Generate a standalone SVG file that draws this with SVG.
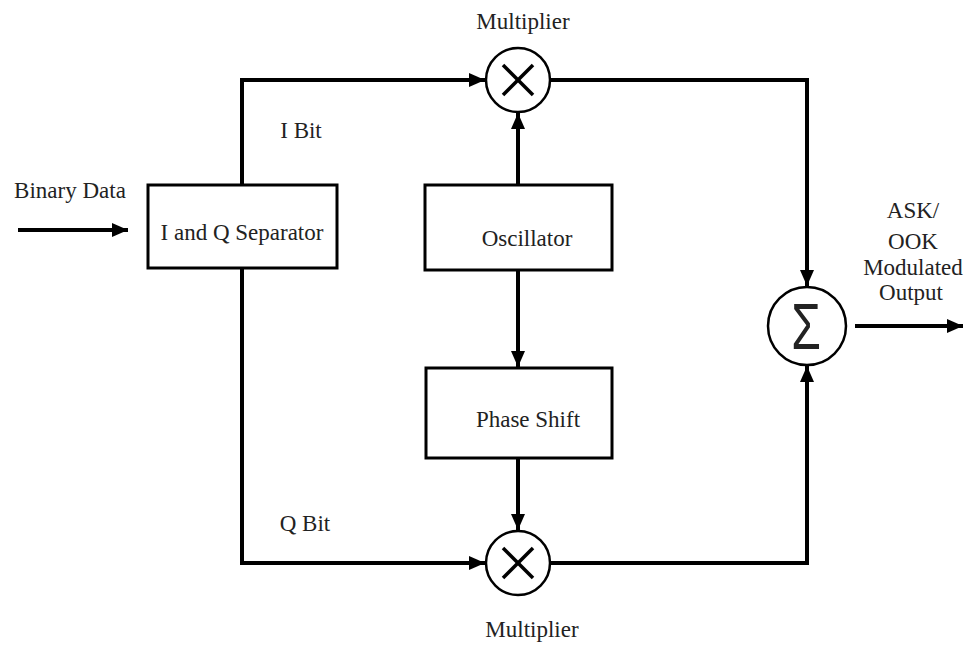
<svg xmlns="http://www.w3.org/2000/svg" width="974" height="645" viewBox="0 0 974 645">
<style>
text{font-family:"Liberation Serif","Times New Roman",serif;font-size:23px;fill:#222;}
.box{fill:#fff;stroke:#000;stroke-width:3;}
.circ{fill:#fff;stroke:#000;stroke-width:2.5;}
.ln{fill:none;stroke:#000;stroke-width:4;}
.x{stroke:#000;stroke-width:3.5;}
</style>
<defs>
<marker id="ah" markerWidth="16" markerHeight="14" refX="16" refY="7" orient="auto" markerUnits="userSpaceOnUse">
<path d="M0,0 L16,7 L0,14 Z" fill="#000"/>
</marker>
</defs>
<rect width="974" height="645" fill="#fff"/>
<g id="connectors">
<line class="ln" x1="18" y1="230" x2="128" y2="230" marker-end="url(#ah)"/>
<polyline class="ln" points="242,185 242,80 485,80" marker-end="url(#ah)"/>
<polyline class="ln" points="242,268 242,563 485,563" marker-end="url(#ah)"/>
<line class="ln" x1="518" y1="185" x2="518" y2="113" marker-end="url(#ah)"/>
<line class="ln" x1="518" y1="270" x2="518" y2="367" marker-end="url(#ah)"/>
<line class="ln" x1="518" y1="458" x2="518" y2="530" marker-end="url(#ah)"/>
<polyline class="ln" points="550,80 807,80 807,286" marker-end="url(#ah)"/>
<polyline class="ln" points="550,563 807,563 807,366" marker-end="url(#ah)"/>
<line class="ln" x1="855" y1="326" x2="963" y2="326" marker-end="url(#ah)"/>
</g>
<g id="binary-label"><text x="70" y="198" text-anchor="middle">Binary Data</text></g>
<g id="separator">
<rect class="box" x="148" y="185" width="189" height="83"/>
<text x="242" y="240" text-anchor="middle">I and Q Separator</text>
</g>
<g id="ibit-label"><text x="301" y="138" text-anchor="middle">I Bit</text></g>
<g id="qbit-label"><text x="305" y="531" text-anchor="middle">Q Bit</text></g>
<g id="oscillator">
<rect class="box" x="425" y="185" width="187" height="85"/>
<text x="527" y="246" text-anchor="middle">Oscillator</text>
</g>
<g id="phase-shift">
<rect class="box" x="426" y="368" width="186" height="90"/>
<text x="528" y="427" text-anchor="middle">Phase Shift</text>
</g>
<g id="multiplier-top">
<circle class="circ" cx="518" cy="80" r="32"/>
<line class="x" x1="503" y1="65" x2="533" y2="95"/>
<line class="x" x1="533" y1="65" x2="503" y2="95"/>
<text x="523" y="29" text-anchor="middle">Multiplier</text>
</g>
<g id="multiplier-bottom">
<circle class="circ" cx="518" cy="563" r="32"/>
<line class="x" x1="503" y1="548" x2="533" y2="578"/>
<line class="x" x1="533" y1="548" x2="503" y2="578"/>
<text x="532" y="637" text-anchor="middle">Multiplier</text>
</g>
<g id="summer">
<circle class="circ" cx="807" cy="326" r="39"/>
<text x="0" y="0" text-anchor="middle" transform="translate(806,349) scale(1,1.35)" style="font-family:'Liberation Sans',Arial,sans-serif;font-size:48px;">Σ</text>
</g>
<g id="output-label">
<text x="913" y="218" text-anchor="middle">ASK/</text>
<text x="913" y="249" text-anchor="middle">OOK</text>
<text x="913" y="275" text-anchor="middle">Modulated</text>
<text x="911" y="300" text-anchor="middle">Output</text>
</g>
</svg>
